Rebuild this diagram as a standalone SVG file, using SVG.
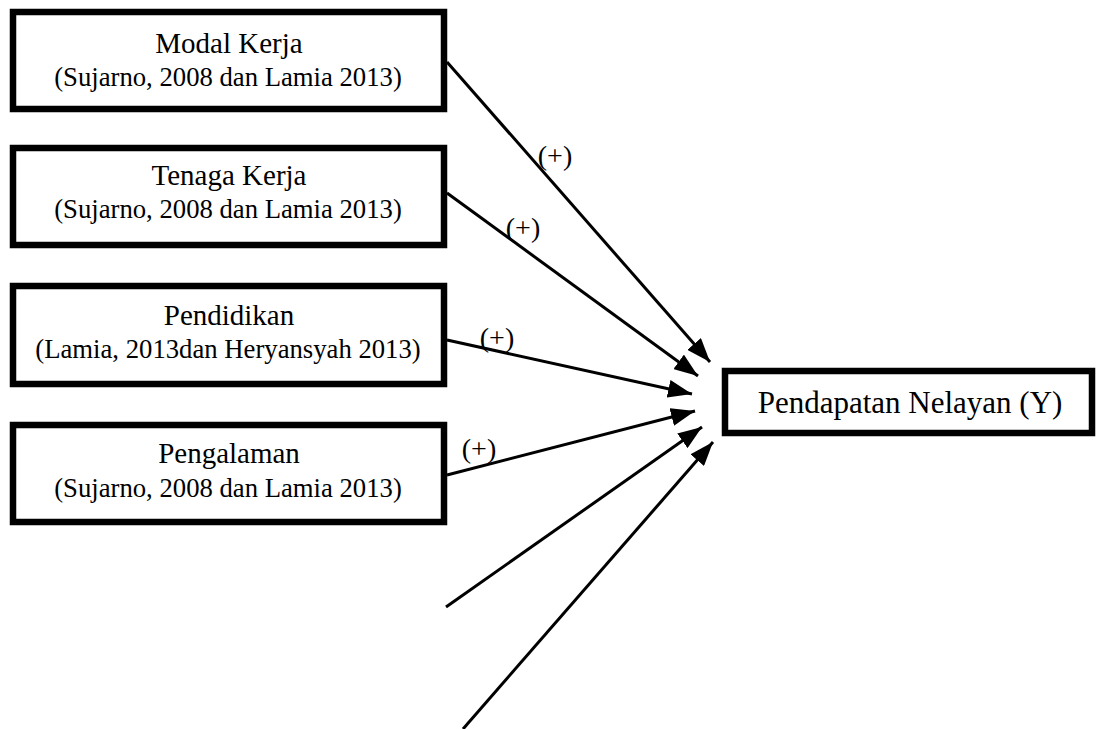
<svg xmlns="http://www.w3.org/2000/svg" width="1099" height="729" viewBox="0 0 1099 729">
<style>
  .box { fill: #fff; stroke: #000; stroke-width: 6.5; }
  .t { font-family: "Liberation Serif", "Times New Roman", serif; fill: #000; text-anchor: middle; }
  .title { font-size: 29px; }
  .sub { font-size: 26.7px; }
  .main { font-size: 31px; }
  .lbl { font-size: 28px; }
  .conn { stroke: #000; stroke-width: 3; fill: none; }
</style>
<defs>
  <marker id="ah" markerWidth="8" markerHeight="6" refX="8" refY="3" orient="auto" markerUnits="strokeWidth">
    <path d="M0,0 L8,3 L0,6 Z" fill="#000"/>
  </marker>
</defs>
<rect width="1099" height="729" fill="#fff"/>
<g id="connectors">
  <line class="conn" x1="447" y1="62" x2="710" y2="362" marker-end="url(#ah)"/>
  <line class="conn" x1="447" y1="193" x2="698" y2="376" marker-end="url(#ah)"/>
  <line class="conn" x1="447" y1="340" x2="692" y2="394" marker-end="url(#ah)"/>
  <line class="conn" x1="447" y1="475" x2="695" y2="411" marker-end="url(#ah)"/>
  <line class="conn" x1="446" y1="607" x2="702" y2="427" marker-end="url(#ah)"/>
  <line class="conn" x1="463" y1="729" x2="713" y2="442" marker-end="url(#ah)"/>
  <text class="t lbl" x="555" y="165">(+)</text>
  <text class="t lbl" x="523" y="237">(+)</text>
  <text class="t lbl" x="497" y="347">(+)</text>
  <text class="t lbl" x="479" y="458">(+)</text>
</g>
<g id="modal-kerja">
  <rect class="box" x="13" y="12" width="431" height="97"/>
  <text class="t title" x="229" y="53">Modal Kerja</text>
  <text class="t sub" x="228" y="86">(Sujarno, 2008 dan Lamia 2013)</text>
</g>
<g id="tenaga-kerja">
  <rect class="box" x="13" y="148" width="431" height="97"/>
  <text class="t title" x="229" y="185">Tenaga Kerja</text>
  <text class="t sub" x="228" y="218">(Sujarno, 2008 dan Lamia 2013)</text>
</g>
<g id="pendidikan">
  <rect class="box" x="13" y="286" width="431" height="98"/>
  <text class="t title" x="229" y="325">Pendidikan</text>
  <text class="t sub" x="228" y="358">(Lamia, 2013dan Heryansyah 2013)</text>
</g>
<g id="pengalaman">
  <rect class="box" x="13" y="425" width="431" height="97"/>
  <text class="t title" x="229" y="463">Pengalaman</text>
  <text class="t sub" x="228" y="497">(Sujarno, 2008 dan Lamia 2013)</text>
</g>
<g id="pendapatan">
  <rect class="box" x="725" y="371" width="367" height="62"/>
  <text class="t main" x="910" y="413">Pendapatan Nelayan (Y)</text>
</g>
</svg>
